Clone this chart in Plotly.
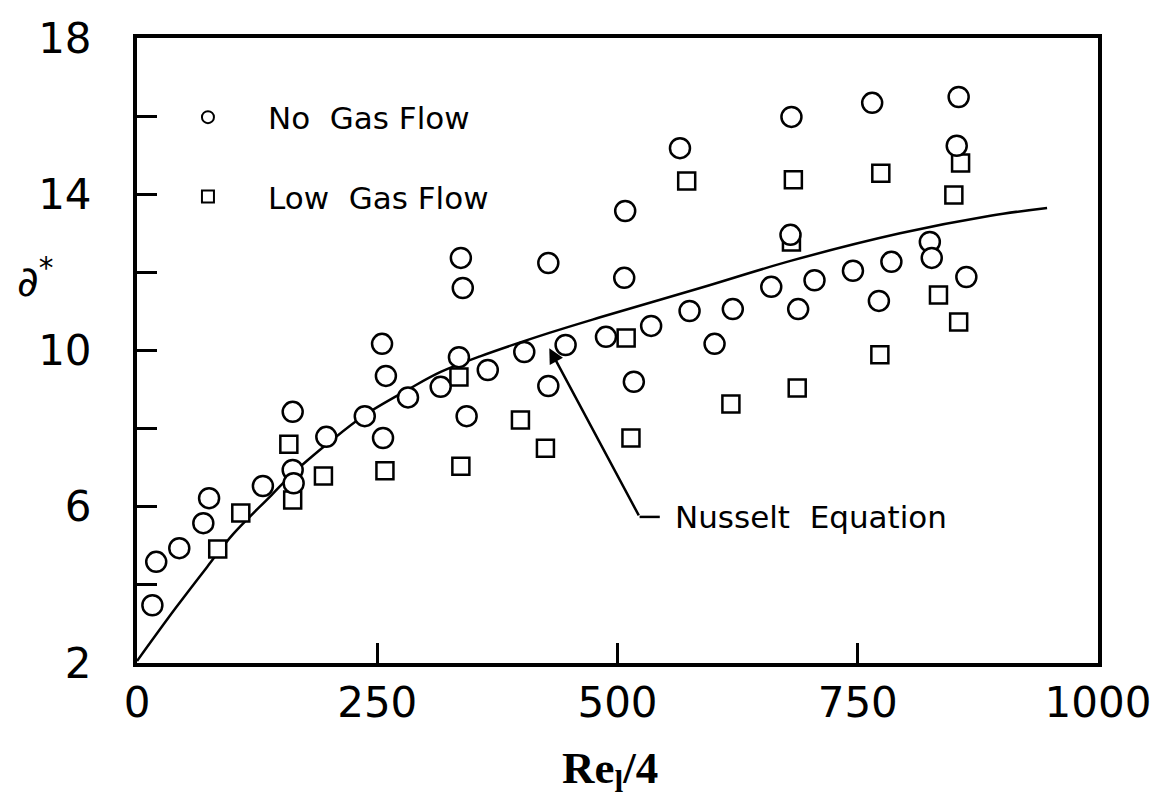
import plotly.graph_objects as go

# Measured film thickness, no gas flow
no_gas_x = [16, 20, 44, 69, 75, 131, 162, 162, 163, 197, 237, 255, 259, 256,
            282, 316, 337, 339, 335, 343, 365, 428, 403, 428, 446, 488, 508,
            507, 517, 535, 575, 565, 601, 620, 660, 681, 680, 688, 705, 745,
            765, 785, 772, 825, 827, 855, 853, 863]
no_gas_y = [3.48, 4.59, 4.94, 5.58, 6.22, 6.53, 8.43, 6.94, 6.6, 7.79, 8.32,
            10.17, 9.35, 7.76, 8.8, 9.07, 12.37, 11.6, 9.83, 8.32, 9.5, 12.24,
            9.96, 9.09, 10.14, 10.35, 13.57, 11.86, 9.2, 10.63, 11.01, 15.18,
            10.17, 11.06, 11.63, 15.98, 12.96, 11.06, 11.8, 12.04, 16.34,
            12.27, 11.27, 12.78, 12.37, 16.49, 15.24, 11.88]

# Measured film thickness, low gas flow
low_gas_x = [84, 108, 158, 162, 194, 258, 335, 337, 399, 425, 509, 514, 572,
             618, 681, 683, 687, 774, 773, 834, 857, 850, 855]
low_gas_y = [4.92, 5.84, 7.6, 6.17, 6.79, 6.92, 9.32, 7.04, 8.22, 7.5, 10.32,
             7.76, 14.34, 8.63, 12.78, 14.37, 9.04, 14.54, 9.89, 11.42, 14.8,
             13.98, 10.73]

# Nusselt equation curve
nusselt_x = [0, 40, 73, 100, 140, 162, 200, 237, 282, 316, 357, 429, 482,
             586, 681, 794, 888, 947]
nusselt_y = [2.05, 3.4, 4.46, 5.3, 6.3, 6.85, 7.65, 8.35, 9.0, 9.45, 9.85,
             10.45, 10.85, 11.6, 12.3, 13.0, 13.45, 13.65]

x_tick_vals = [0, 250, 500, 750, 1000]
x_tick_text = ["0", "250", "500", "750", "1000"]
y_tick_vals = [2, 6, 10, 14, 18]
y_tick_text = ["2", "6", "10", "14", "18"]
y_minor_vals = [4, 8, 12, 16]

FONT = "DejaVu Sans"

fig = go.Figure()

fig.add_trace(go.Scatter(
    x=nusselt_x, y=nusselt_y, mode="lines",
    line=dict(color="black", width=2.5, shape="spline"),
    showlegend=False, hoverinfo="skip",
))

fig.add_trace(go.Scatter(
    x=low_gas_x, y=low_gas_y, mode="markers",
    name="Low\u00a0\u00a0Gas\u00a0Flow", legendgroup="low", legendrank=2,
    marker=dict(symbol="square", size=17, color="white",
                line=dict(color="black", width=2.5)),
))

fig.add_trace(go.Scatter(
    x=no_gas_x, y=no_gas_y, mode="markers",
    name="No\u00a0\u00a0Gas\u00a0Flow", legendgroup="no", legendrank=1,
    marker=dict(symbol="circle", size=20, color="white",
                line=dict(color="black", width=2.5)),
))

# Arrow pointing at the Nusselt curve, with its label
tip_x, tip_y = 429, 10.06
elbow_x, elbow_y = 523, 5.74
label_x = 558

fig.add_annotation(
    x=tip_x, y=tip_y, ax=elbow_x, ay=elbow_y,
    xref="x", yref="y", axref="x", ayref="y",
    text="", showarrow=True, arrowhead=2, arrowsize=1.2,
    arrowwidth=2.5, arrowcolor="black",
)
fig.add_shape(
    type="line", xref="x", yref="y",
    x0=elbow_x, y0=elbow_y, x1=elbow_x + 21, y1=elbow_y,
    line=dict(color="black", width=2.5),
)
fig.add_annotation(
    x=label_x, y=elbow_y, xref="x", yref="y",
    text="Nusselt\u00a0\u00a0Equation", showarrow=False,
    xanchor="left", yanchor="middle",
    font=dict(family=FONT, size=31, color="black"),
)

# Axis titles
fig.add_annotation(
    x=0.5 - 8 / 961, y=-0.172, xref="paper", yref="paper",
    text="<b>Re<sub>l</sub>/4</b>", showarrow=False,
    xanchor="center", yanchor="middle",
    font=dict(family="Liberation Serif", size=45, color="black"),
)
fig.add_annotation(
    x=-0.106, y=0.616, xref="paper", yref="paper",
    text="\u2202<sup>*</sup>", showarrow=False,
    xanchor="center", yanchor="middle",
    font=dict(family=FONT, size=42, color="black"),
)

fig.update_xaxes(
    range=[0, 1000], tickvals=x_tick_vals, ticktext=x_tick_text,
    ticks="inside", ticklen=20, tickwidth=2.5, tickcolor="black",
    showline=True, linewidth=4, linecolor="black", mirror=True,
    showgrid=False, zeroline=False, ticklabelstandoff=0,
    tickfont=dict(family=FONT, size=42, color="black"),
)
fig.update_yaxes(
    range=[2, 18], tickvals=y_tick_vals, ticktext=y_tick_text,
    ticks="inside", ticklen=20, tickwidth=2.5, tickcolor="black",
    minor=dict(tickvals=y_minor_vals, ticks="inside", ticklen=20,
               tickwidth=2.5, tickcolor="black", showgrid=False),
    showline=True, linewidth=4, linecolor="black", mirror=True,
    showgrid=False, zeroline=False, ticklabelstandoff=33,
    tickfont=dict(family=FONT, size=42, color="black"),
)

fig.update_layout(
    width=1169, height=805,
    margin=dict(l=137, r=71, t=38, b=142),
    paper_bgcolor="white", plot_bgcolor="white",
    showlegend=True,
    legend=dict(
        x=0.0114, y=0.916, xanchor="left", yanchor="top",
        bgcolor="rgba(0,0,0,0)", borderwidth=0,
        font=dict(family=FONT, size=31, color="black"),
        itemsizing="constant", itemwidth=110, tracegroupgap=36,
        traceorder="grouped",
    ),
)

fig.write_html("out.html")
